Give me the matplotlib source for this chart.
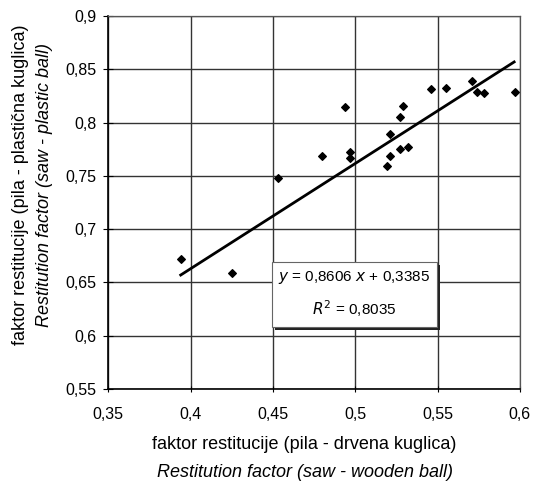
import matplotlib.pyplot as plt
import matplotlib.patches as patches
import matplotlib.transforms as mtransforms
from matplotlib.ticker import FuncFormatter

plt.rcParams['font.family'] = ['Liberation Sans', 'DejaVu Sans']

# saw - wooden ball vs saw - plastic ball
wooden = [0.394, 0.425, 0.453, 0.480, 0.494, 0.497, 0.497,
          0.519, 0.521, 0.521, 0.527, 0.527, 0.529, 0.532,
          0.546, 0.555, 0.571, 0.574, 0.578, 0.597]
plastic = [0.672, 0.659, 0.748, 0.769, 0.815, 0.772, 0.767,
           0.759, 0.789, 0.769, 0.805, 0.775, 0.816, 0.777,
           0.832, 0.833, 0.839, 0.829, 0.828, 0.829]

# trend line as drawn in the picture
trend_x = [0.394, 0.5965]
trend_y = [0.657, 0.857]

eq_text = "$y$ = 0,8606 $x$ + 0,3385\n$R^2$ = 0,8035"

xticks = [0.35, 0.4, 0.45, 0.5, 0.55, 0.6]
yticks = [0.55, 0.6, 0.65, 0.7, 0.75, 0.8, 0.85, 0.9]


def comma(v, pos):
    return ('%g' % round(v, 3)).replace('.', ',')


fig = plt.figure(figsize=(5.36, 4.83), dpi=100)
ax = fig.add_axes([0.202, 0.1946, 0.768, 0.772])

ax.scatter(wooden, plastic, marker='D', s=15, color='black', zorder=3)
ax.plot(trend_x, trend_y, color='black', linewidth=2.0, zorder=2)

ax.set_xlim(0.35, 0.6)
ax.set_ylim(0.55, 0.9)
ax.set_xticks(xticks)
ax.set_yticks(yticks)
ax.xaxis.set_major_formatter(FuncFormatter(comma))
ax.yaxis.set_major_formatter(FuncFormatter(comma))
ax.grid(True, color='#333333', linewidth=1.0)
ax.set_axisbelow(True)
for s in ax.spines.values():
    s.set_color('#555555')
    s.set_linewidth(0.9)
ax.spines['left'].set_color('black')
ax.spines['bottom'].set_color('black')
ax.spines['left'].set_linewidth(1.2)
ax.spines['bottom'].set_linewidth(1.2)
ax.tick_params(axis='y', direction='inout', length=6.5, labelsize=11.5, pad=5)
ax.tick_params(axis='x', direction='inout', length=4, labelsize=11.5, pad=11)

# equation box with shadow
bx, by, bw, bh = 0.4493, 0.6085, 0.1003, 0.061
shadow_tr = mtransforms.offset_copy(ax.transData, fig=fig, x=2.2, y=-2.2, units='points')
ax.add_patch(patches.Rectangle((bx, by), bw, bh, facecolor='#222222',
                               edgecolor='none', transform=shadow_tr, zorder=4))
ax.add_patch(patches.Rectangle((bx, by), bw, bh, facecolor='white',
                               edgecolor='#666666', linewidth=0.8, zorder=5))
ax.text(bx + bw / 2, by + bh / 2, eq_text, ha='center', va='center',
        fontsize=11, linespacing=1.7, zorder=6)

fig.text(0.568, 0.079, "faktor restitucije (pila - drvena kuglica)",
         ha='center', va='center', fontsize=13)
fig.text(0.569, 0.022, "Restitution factor (saw - wooden ball)",
         ha='center', va='center', fontsize=13, style='italic')
fig.text(0.039, 0.617, "faktor restitucije (pila - plastična kuglica)",
         ha='center', va='center', fontsize=13, rotation=90)
fig.text(0.083, 0.617, "Restitution factor (saw - plastic ball)",
         ha='center', va='center', fontsize=13, rotation=90, style='italic')

fig.savefig('out.png', dpi=100, facecolor='white')
